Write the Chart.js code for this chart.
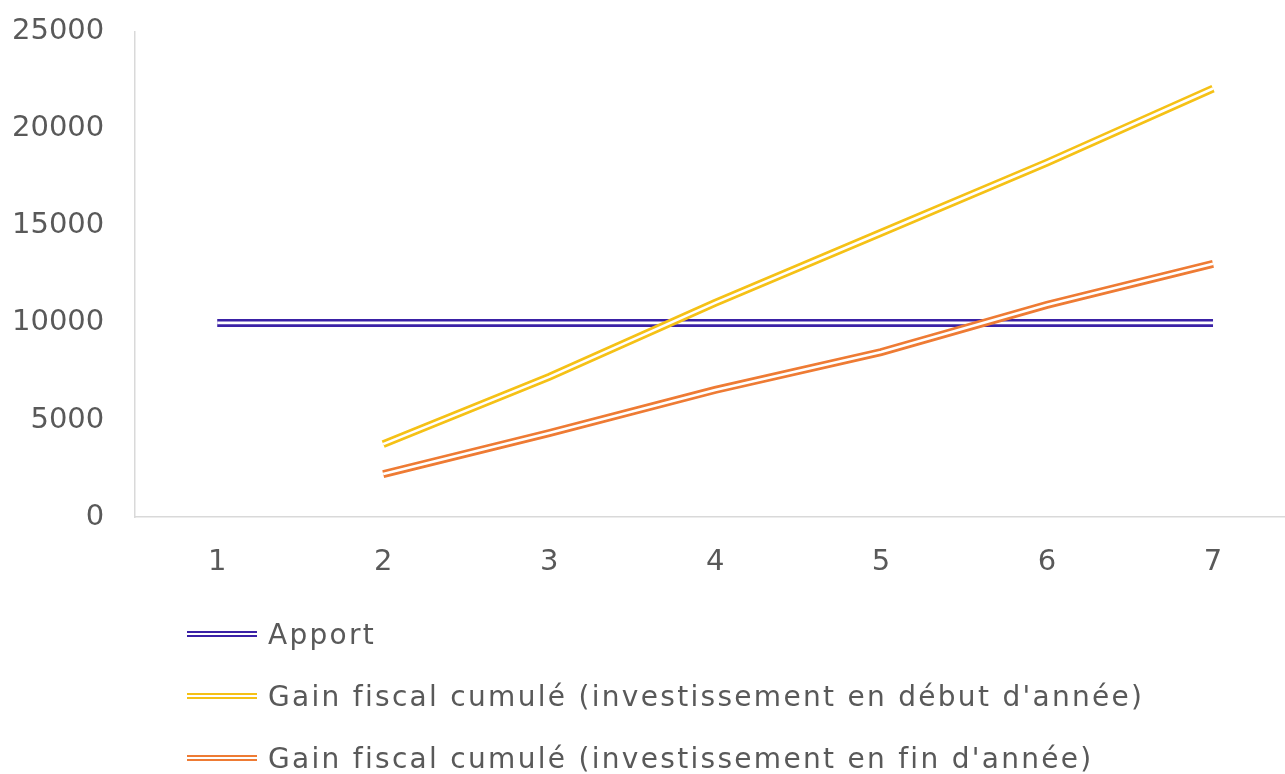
<!DOCTYPE html>
<html>
<head>
<meta charset="utf-8">
<script src="https://cdn.jsdelivr.net/npm/chart.js@4"></script>
<style>
    html, body { margin: 0; padding: 0; background: #fff; overflow: hidden; }
    #wrap { position: relative; width: 1285px; height: 774px; overflow: hidden; }
    #chart { position: absolute; left: -28px; top: -16px; }
    #legende { position: absolute; left: 187px; top: 603px; font-family: "DejaVu Sans", sans-serif; font-size: 28px; letter-spacing: 2.3px; color: #595959; }
    .item { display: flex; align-items: center; height: 62px; }
    .marque { width: 70px; height: 2.5px; border-top: 2.5px solid; border-bottom: 2.5px solid; margin-right: 11px; box-sizing: content-box; }
</style>
</head>
<body>
<div id="wrap">
    <canvas id="chart" width="1324" height="624"></canvas>
    <div id="legende"></div>
</div>
<script>
// Données
const annees = ['1', '2', '3', '4', '5', '6', '7'];
const apport = [10000, 10000, 10000, 10000, 10000, 10000, 10000];
const gainDebut = [null, 3760, 7220, 11030, 14640, 18250, 22060];
const gainFin = [null, 2220, 4330, 6550, 8500, 10930, 13040];
const ticksY = [0, 5000, 10000, 15000, 20000, 25000];

const series = [
    { label: 'Apport', data: apport, couleur: '#3a21a6' },
    { label: "Gain fiscal cumulé (investissement en début d'année)", data: gainDebut, couleur: '#f5c116' },
    { label: "Gain fiscal cumulé (investissement en fin d'année)", data: gainFin, couleur: '#ee7b34' }
];

// Ligne double : trait épais coloré puis trait blanc fin par-dessus
// (order décroissant pour que chaque série soit dessinée après la précédente)
const datasets = [];
let ordre = series.length * 2;
series.forEach(s => {
    datasets.push({
        label: s.label,
        data: s.data,
        borderColor: s.couleur,
        borderWidth: 8,
        pointRadius: 0,
        tension: 0,
        borderCapStyle: 'butt',
        order: ordre--
    });
    datasets.push({
        label: s.label + ' (interne)',
        data: s.data,
        borderColor: '#ffffff',
        borderWidth: 2.6,
        pointRadius: 0,
        tension: 0,
        borderCapStyle: 'butt',
        order: ordre--
    });
});

const police = { family: '"DejaVu Sans", sans-serif', size: 29 };

new Chart(document.getElementById('chart').getContext('2d'), {
    type: 'line',
    data: { labels: annees, datasets: datasets },
    options: {
        responsive: false,
        animation: false,
        layout: { padding: { left: 10, top: 2, right: 0, bottom: 0 } },
        plugins: {
            legend: { display: false },
            tooltip: { enabled: false }
        },
        scales: {
            x: {
                offset: true,
                grid: { display: true, drawOnChartArea: false, drawTicks: false, color: '#d9d9d9' },
                border: { display: true, color: '#d9d9d9', width: 1.5 },
                ticks: { color: '#595959', font: police, padding: 28 }
            },
            y: {
                min: 0,
                max: 25000,
                afterBuildTicks: axis => { axis.ticks = ticksY.map(v => ({ value: v })); },
                grid: { display: true, drawOnChartArea: false, drawTicks: false, color: '#d9d9d9' },
                border: { display: true, color: '#d9d9d9', width: 1.5 },
                ticks: { color: '#595959', font: police, padding: 30, callback: v => String(v) }
            }
        }
    }
});

// Légende HTML verticale
const legende = document.getElementById('legende');
series.forEach(s => {
    const item = document.createElement('div');
    item.className = 'item';
    const marque = document.createElement('span');
    marque.className = 'marque';
    marque.style.borderColor = s.couleur;
    const texte = document.createElement('span');
    texte.textContent = s.label;
    item.appendChild(marque);
    item.appendChild(texte);
    legende.appendChild(item);
});
</script>
</body>
</html>
